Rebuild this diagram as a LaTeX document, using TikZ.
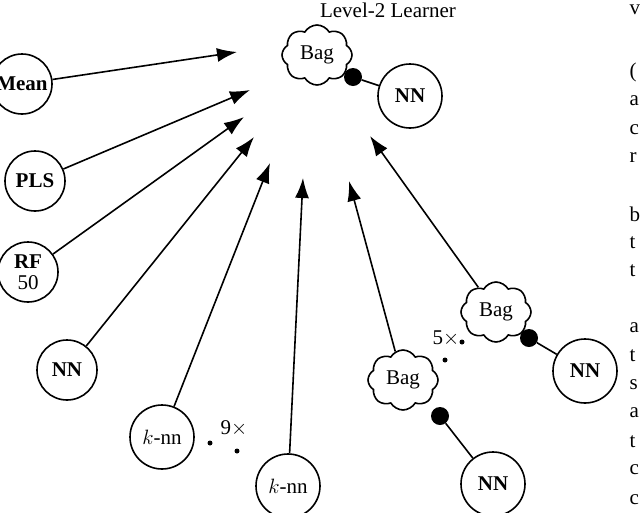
\documentclass[tikz,border=0pt]{standalone}
\usepackage{fontspec}
\setmainfont{Liberation Serif}
\usetikzlibrary{arrows.meta,shapes.symbols}
\begin{document}
\begin{tikzpicture}[x=1pt,y=-1pt,
  every node/.style={font=\fontsize{21}{24}\selectfont},
  model/.style={circle,draw,line width=1.6pt,minimum size=60pt,inner sep=0pt,font=\fontsize{21}{22}\selectfont\bfseries},
  bag/.style={cloud,cloud puffs=8,cloud puff arc=120,aspect=1.1,draw,line width=1.6pt,minimum width=70pt,minimum height=60pt,inner sep=0pt},
  link/.style={line width=1.6pt},
  arrow/.style={line width=1.6pt,-{Latex[length=20pt,width=14pt]}},
  blob/.style={circle,fill,inner sep=0pt,minimum size=18pt},
  dot/.style={circle,fill,inner sep=0pt,minimum size=5pt},
  page/.style={anchor=west,font=\fontsize{21}{24}\selectfont}]
\useasboundingbox (0,0) rectangle (640,512);
% level-2 learner
\node (title) at (388,10) {Level-2 Learner};
\node[bag] (topbag) at (317,55) {Bag};
\node[blob] (topblob) at (353,77) {};
\node[model,minimum size=64pt] (topnn) at (410,96) {NN};
\draw[link] (topblob) -- (topnn);
% targets
\coordinate (t1) at (237,52);
\coordinate (t2) at (250,90);
\coordinate (t3) at (244,117);
\coordinate (t4) at (254,137);
\coordinate (t5) at (270,163);
\coordinate (t6) at (303,178);
\coordinate (t7) at (349,181);
\coordinate (t8) at (370,136);
% level-1 learners
\node[model] (mean) at (22,84) {Mean};
\node[model] (pls) at (35,181) {PLS};
\node[model] (rf) at (28,272) {\shortstack{RF\\[4pt]\mdseries 50}};
\node[model] (nn1) at (67,370) {NN};
\node[model,minimum size=64pt,font=\fontsize{21}{22}\selectfont] (knn1) at (162,437) {$k$-nn};
\node[model,minimum size=64pt,font=\fontsize{21}{22}\selectfont] (knn2) at (288,486) {$k$-nn};
\node (nine) at (234,428) {9$\times$};
\node[dot] (d1) at (210,443) {};
\node[dot] (d2) at (237,451) {};
\node[bag] (bag1) at (403,380) {Bag};
\node[blob] (blob1) at (440,416) {};
\node[model,minimum size=64pt] (nn2) at (493,484) {NN};
\draw[link] (blob1) -- (nn2);
\node[bag] (bag2) at (496,312) {Bag};
\node[blob] (blob2) at (529,338) {};
\node[model,minimum size=64pt] (nn3) at (585,371) {NN};
\draw[link] (blob2) -- (nn3);
\node (five) at (446,338) {5$\times$};
\node[dot] (d3) at (462,342) {};
\node[dot] (d4) at (445,360) {};
% arrows
\draw[arrow] (mean) -- (t1);
\draw[arrow] (pls) -- (t2);
\draw[arrow] (rf) -- (t3);
\draw[arrow] (nn1) -- (t4);
\draw[arrow] (knn1) -- (t5);
\draw[arrow] (knn2) -- (t6);
\draw[arrow] (bag1) -- (t7);
\draw[arrow] (bag2) -- (t8);
% page text at right edge
\node[page] (p1) at (626,10) {v};
\node[page] (p2) at (626,72) {(};
\node[page] (p3) at (626,101) {a};
\node[page] (p4) at (626,130) {c};
\node[page] (p5) at (626,158) {r};
\node[page] (p6) at (626,214) {b};
\node[page] (p7) at (626,243) {t};
\node[page] (p8) at (626,271) {t};
\node[page] (p9) at (626,328) {a};
\node[page] (p10) at (626,356) {t};
\node[page] (p11) at (626,385) {s};
\node[page] (p12) at (626,413) {a};
\node[page] (p13) at (626,442) {t};
\node[page] (p14) at (626,470) {c};
\node[page] (p15) at (626,500) {c};
\end{tikzpicture}
\end{document}
